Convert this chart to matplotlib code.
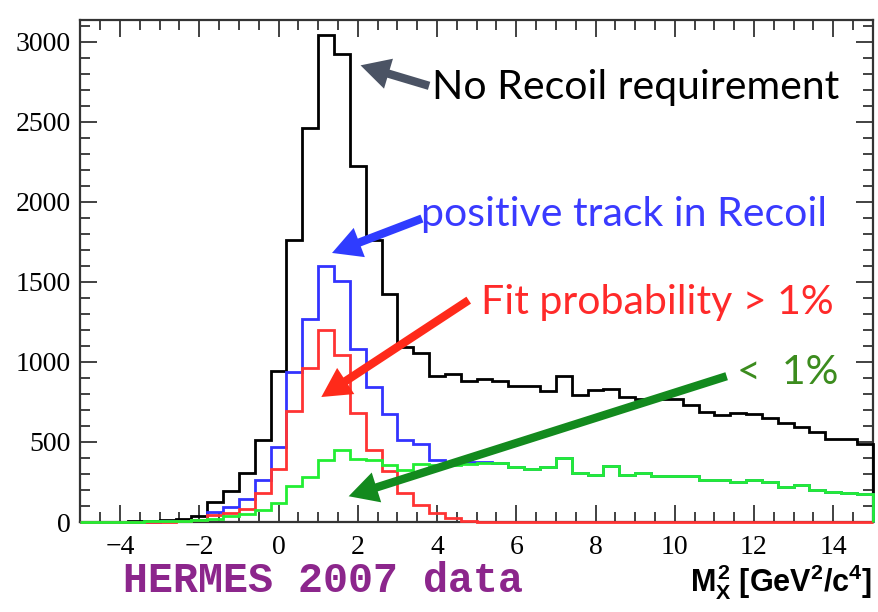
import matplotlib
matplotlib.use('Agg')
import matplotlib.pyplot as plt
import numpy as np
from matplotlib.ticker import MultipleLocator

# M_X^2 histogram, 50 bins of 0.4 GeV^2 from -5 to 15
bin_lo, bin_hi, n_bins = -5.0, 15.0, 50

no_recoil = [2, 3, 3, 5, 7, 10, 21, 36, 128, 197,
             305, 510, 945, 1765, 2462, 3042, 2921, 2225, 1765, 1427,
             1095, 1056, 911, 923, 881, 894, 879, 848, 848, 821,
             911, 795, 826, 831, 778, 766, 766, 768, 730, 690,
             669, 684, 672, 648, 617, 592, 565, 516, 516, 487]

positive_track = [1, 1, 2, 2, 3, 4, 6, 12, 63, 94,
                  142, 265, 470, 936, 1268, 1600, 1508, 1080, 845, 677,
                  510, 485, 390, 375, 375, 372, 371, 345, 332, 342,
                  400, 304, 295, 349, 295, 304, 289, 289, 289, 262,
                  262, 252, 262, 250, 219, 232, 203, 188, 179, 178]

fit_gt1 = [0, 0, 1, 1, 2, 3, 5, 10, 42, 55,
           82, 183, 334, 694, 965, 1198, 1042, 681, 450, 320,
           180, 108, 56, 23, 7, 3, 1, 0, 0, 0,
           0, 0, 0, 0, 0, 0, 0, 0, 0, 0,
           0, 0, 0, 0, 0, 0, 0, 0, 0, 0]

fit_lt1 = [1, 2, 2, 3, 4, 5, 7, 12, 22, 38,
           50, 78, 119, 223, 280, 390, 448, 392, 385, 355,
           325, 365, 358, 354, 360, 367, 370, 345, 332, 342,
           400, 304, 295, 349, 295, 304, 289, 289, 289, 262,
           262, 252, 262, 250, 219, 232, 203, 188, 179, 178]

edges = np.linspace(bin_lo, bin_hi, n_bins + 1)

plt.rcParams['mathtext.fontset'] = 'custom'
plt.rcParams['mathtext.rm'] = 'Liberation Sans:bold'
plt.rcParams['mathtext.it'] = 'Liberation Sans:bold'
plt.rcParams['mathtext.bf'] = 'Liberation Sans:bold'

fig = plt.figure(figsize=(8.79, 6.12), dpi=100)
ax = fig.add_axes([0.0915, 0.147, 0.9015, 0.82])

# drawn above the frame (and unclipped) so the zero-level lines stay visible, like ROOT
for vals, col in [(no_recoil, 'black'), (positive_track, '#3333ff'),
                  (fit_gt1, '#ff3333'), (fit_lt1, '#22ee33')]:
    ax.stairs(vals, edges, color=col, lw=2, zorder=3, clip_on=False)

ax.set_xlim(bin_lo, bin_hi)
ax.set_ylim(0, 3135)

# axis styling, ROOT-like
ax.xaxis.set_major_locator(MultipleLocator(2))
ax.xaxis.set_minor_locator(MultipleLocator(0.5))
ax.yaxis.set_major_locator(MultipleLocator(500))
ax.yaxis.set_minor_locator(MultipleLocator(100))
ax.tick_params(which='both', direction='in', top=True, right=True,
               labeltop=False, labelright=False, color='#333333')
ax.tick_params(which='major', length=12, width=1.3)
ax.tick_params(which='minor', length=7, width=1.3)
ax.tick_params(axis='x', pad=9)
ax.tick_params(axis='y', pad=7)
for lab in ax.get_xticklabels() + ax.get_yticklabels():
    lab.set_fontfamily('Liberation Serif')
    lab.set_fontsize(20)
for sp in ax.spines.values():
    sp.set_linewidth(1.6)
    sp.set_color('#333333')

# arrows + labels
def arrow(tail, tip, col):
    ax.annotate('', xy=tip, xytext=tail,
                arrowprops=dict(arrowstyle='simple,head_length=0.7,head_width=0.75,tail_width=0.2',
                                mutation_scale=30, color=col, lw=0,
                                shrinkA=0, shrinkB=0))

fs = 29.5
arrow((3.8, 2725), (2.07, 2853), '#4b5364')
ax.text(3.88, 2714, 'No Recoil requirement', family='Lato', fontsize=fs,
        color='black', ha='left', va='center')

arrow((3.62, 1896), (1.35, 1681), '#2f3cff')
ax.text(3.6, 1922, 'positive track in Recoil', family='Lato', fontsize=fs,
        color='#3a3aff', ha='left', va='center')

arrow((4.8, 1386), (1.08, 781), '#ff2a1a')
ax.text(5.1, 1373, 'Fit probability > 1%', family='Lato', fontsize=fs,
        color='#ff2a2a', ha='left', va='center')

arrow((11.31, 911), (1.77, 161), '#138a1e')
ax.text(11.57, 936, '<  1%', family='Lato', fontsize=fs,
        color='#3c8c1e', ha='left', va='center')

fig.text(123 / 879, 1 - 592 / 612, 'HERMES 2007 data', family='Liberation Mono',
         fontweight='bold', fontsize=30, color='#8c268c', ha='left', va='baseline')
fig.text(872 / 879, 1 - 592 / 612, r'$M_X^2$ [GeV$^2$/c$^4$]', family='Liberation Sans',
         fontweight='bold', fontsize=22, color='black', ha='right', va='baseline')

fig.savefig('out.png', dpi=100)
